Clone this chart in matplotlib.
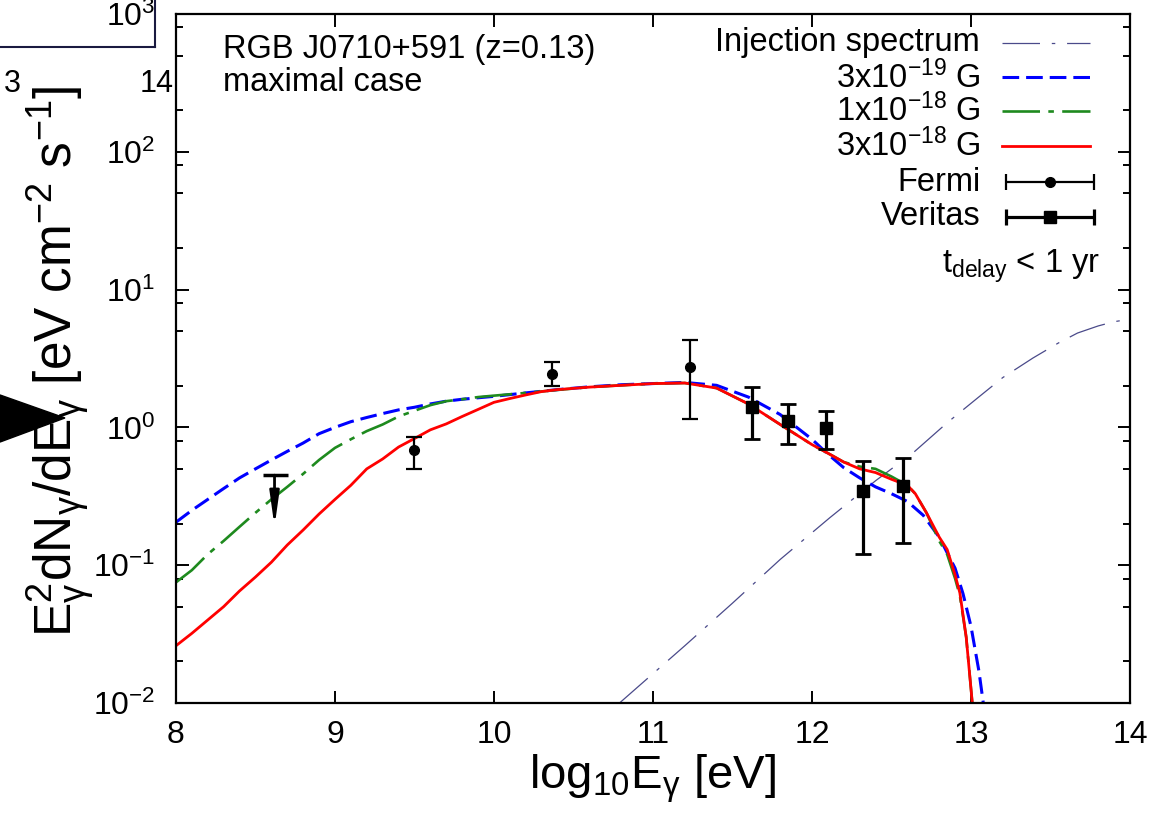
import matplotlib
matplotlib.use("Agg")
from matplotlib import pyplot as plt
from matplotlib.lines import Line2D
from matplotlib.patches import Polygon

plt.rcParams["font.family"] = ["Liberation Sans", "DejaVu Sans"]
plt.rcParams["mathtext.fontset"] = "custom"
plt.rcParams["mathtext.rm"] = "Liberation Sans"
plt.rcParams["mathtext.it"] = "Liberation Sans:italic"
plt.rcParams["mathtext.bf"] = "Liberation Sans:bold"
plt.rcParams["lines.scale_dashes"] = False

# ---- data ----
inj_x = [10.79, 11.2, 11.5, 11.8, 12.11, 12.4, 12.64, 12.85, 13.04, 13.2, 13.39, 13.55, 13.67, 13.8, 13.9, 13.96, 14.0]
inj_y = [0.01, 0.026, 0.053, 0.11, 0.22, 0.41, 0.66, 1.08, 1.63, 2.3, 3.19, 4.1, 4.84, 5.45, 5.85, 6.0, 6.05]

b19_x = [8.0, 8.1, 8.2, 8.3, 8.4, 8.5, 8.6, 8.7, 8.8, 8.9, 9.0, 9.1, 9.2, 9.3, 9.4, 9.5, 9.6, 9.7,
         9.8, 9.9, 10.0, 10.2, 10.4, 10.6, 10.8, 11.0, 11.2, 11.4, 11.6, 11.8, 12.0, 12.1, 12.2,
         12.3, 12.4, 12.5, 12.6, 12.7, 12.8, 12.9, 12.95, 13.0, 13.05, 13.08]
b19_y = [0.205, 0.25, 0.30, 0.36, 0.43, 0.50, 0.58, 0.67, 0.77, 0.90, 1.0, 1.10, 1.18, 1.26, 1.34,
         1.40, 1.48, 1.55, 1.60, 1.64, 1.68, 1.78, 1.88, 1.97, 2.04, 2.08, 2.12, 2.02, 1.66, 1.24,
         0.82, 0.64, 0.51, 0.43, 0.37, 0.33, 0.29, 0.23, 0.16, 0.095, 0.062, 0.036, 0.017, 0.0095]

b18_x = [8.0, 8.1, 8.2, 8.3, 8.4, 8.5, 8.6, 8.7, 8.8, 8.9, 9.0, 9.1, 9.2, 9.3, 9.4, 9.5, 9.6, 9.7,
         9.8, 9.9, 10.0, 10.2, 10.4, 10.6, 10.8, 11.0, 11.2, 11.4, 11.6, 11.8, 12.0, 12.1, 12.2,
         12.3, 12.4, 12.5, 12.6, 12.65, 12.72, 12.8, 12.85, 12.9, 12.93, 12.97, 13.01]
b18_y = [0.075, 0.092, 0.12, 0.15, 0.19, 0.24, 0.30, 0.37, 0.46, 0.58, 0.71, 0.82, 0.94, 1.05,
         1.20, 1.32, 1.45, 1.55, 1.60, 1.66, 1.70, 1.78, 1.87, 1.96, 2.02, 2.08, 2.10, 1.93, 1.48,
         1.05, 0.75, 0.65, 0.56, 0.52, 0.50, 0.44, 0.38, 0.33, 0.24, 0.15, 0.12, 0.08, 0.06, 0.03, 0.0095]

b3_x = [8.0, 8.1, 8.2, 8.3, 8.4, 8.5, 8.6, 8.7, 8.8, 8.9, 9.0, 9.1, 9.2, 9.3, 9.4, 9.5, 9.6, 9.7,
        9.8, 9.9, 10.0, 10.1, 10.2, 10.3, 10.4, 10.6, 10.8, 11.0, 11.2, 11.4, 11.6, 11.8, 12.0,
        12.1, 12.2, 12.3, 12.4, 12.5, 12.6, 12.65, 12.72, 12.8, 12.85, 12.9, 12.93, 12.97, 13.01]
b3_y = [0.026, 0.032, 0.040, 0.050, 0.065, 0.082, 0.105, 0.14, 0.18, 0.235, 0.30, 0.38, 0.50, 0.59,
        0.72, 0.83, 0.96, 1.06, 1.20, 1.35, 1.52, 1.62, 1.72, 1.82, 1.88, 1.96, 2.02, 2.08, 2.10,
        1.93, 1.48, 1.05, 0.75, 0.65, 0.56, 0.50, 0.47, 0.42, 0.38, 0.33, 0.24, 0.16, 0.13, 0.085,
        0.063, 0.030, 0.0095]

fermi_x = [9.50, 10.365, 11.23]
fermi_y = [0.685, 2.44, 2.74]
fermi_lo = [0.50, 2.0, 1.15]
fermi_hi = [0.85, 2.98, 4.3]
fermi_ul_x = 8.62
fermi_ul_y = 0.45
fermi_ul_tip = 0.19

ver_x = [11.62, 11.85, 12.09, 12.32, 12.57]
ver_y = [1.40, 1.11, 0.99, 0.345, 0.376]
ver_lo = [0.82, 0.76, 0.70, 0.12, 0.145]
ver_hi = [1.96, 1.48, 1.31, 0.57, 0.60]

xticks = [8, 9, 10, 11, 12, 13, 14]
yticks = [1e-2, 1e-1, 1e0, 1e1, 1e2, 1e3]
ytick_labels = ["10$^{-2}$", "10$^{-1}$", "10$^{0}$", "10$^{1}$", "10$^{2}$", "10$^{3}$"]
yminor = [m * 10.0 ** k for k in range(-2, 3) for m in (2, 5, 8)]

labels = ["Injection spectrum", "3x10$^{-19}$ G", "1x10$^{-18}$ G", "3x10$^{-18}$ G", "Fermi", "Veritas"]

# ---- figure ----
fig = plt.figure(figsize=(11.56, 8.27), dpi=100)
ax = fig.add_axes([0.1522, 0.150, 0.8253, 0.833])

c_inj = "#4a4a8a"
c_blue = "#0000ff"
c_green = "#1e8a1e"
c_red = "#ff0000"
fs = 23.5

ax.plot(inj_x, inj_y, color=c_inj, lw=0.9, dashes=(27, 8.5, 2.5, 8.5))
ax.plot(b19_x, b19_y, color=c_blue, lw=2.2, dashes=(12, 5))
ax.plot(b18_x, b18_y, color=c_green, lw=1.9, dashes=(27, 6, 4, 6))
ax.plot(b3_x, b3_y, color=c_red, lw=2.0)

f_err = [[y - lo for y, lo in zip(fermi_y, fermi_lo)], [hi - y for y, hi in zip(fermi_y, fermi_hi)]]
ax.errorbar(fermi_x, fermi_y, yerr=f_err, fmt="o", color="k", ms=7, elinewidth=1.6,
            capsize=6, capthick=1.6)
v_err = [[y - lo for y, lo in zip(ver_y, ver_lo)], [hi - y for y, hi in zip(ver_y, ver_hi)]]
ax.errorbar(ver_x, ver_y, yerr=v_err, fmt="s", color="k", ms=8.5, elinewidth=2.3,
            capsize=6, capthick=2.0)

# Fermi upper limit
ax.plot([fermi_ul_x], [fermi_ul_y], marker="_", ms=18, mew=2.5, color="k")
ax.annotate("", xy=(fermi_ul_x, fermi_ul_tip), xytext=(fermi_ul_x, fermi_ul_y),
            arrowprops=dict(arrowstyle="-|>,head_length=1.0,head_width=0.14", lw=2.0,
                            color="k", mutation_scale=20, shrinkA=0, shrinkB=0))

ax.set_xlim(8, 14)
ax.set_ylim(1e-2, 1e3)
ax.set_yscale("log")
ax.set_xticks(xticks)
ax.set_yticks(yticks, ytick_labels)
ax.set_yticks(yminor, minor=True)
ax.tick_params(which="both", direction="in", top=True, right=True, width=1.4,
               labelsize=23)
ax.tick_params(which="major", length=9)
ax.tick_params(which="minor", length=5)
ax.tick_params(axis="x", pad=12)
ax.tick_params(axis="y", pad=15)
for s in ax.spines.values():
    s.set_linewidth(1.6)

ax.set_xlabel(r"log$_{10}$E$_{\mathrm{\gamma}}$ [eV]", fontsize=34, labelpad=2)
fig.text(0.052, 0.563,
         r"E$_{\mathrm{\gamma}}^{2}$dN$_{\mathrm{\gamma}}$/dE$_{\mathrm{\gamma}}$ [eV cm$^{-2}$ s$^{-1}$]",
         rotation=90, ha="center", va="center", fontsize=37)

ax.text(0.049, 0.948, "RGB J0710+591 (z=0.13)", transform=ax.transAxes, fontsize=fs,
        ha="left", va="center")
ax.text(0.049, 0.900, "maximal case", transform=ax.transAxes, fontsize=fs,
        ha="left", va="center")
ax.text(0.969, 0.634, r"t$_{\mathrm{delay}}$ < 1 yr", transform=ax.transAxes, fontsize=fs,
        ha="right", va="center")

# ---- gnuplot-style key ----
rows = [0.958, 0.908, 0.859, 0.808, 0.756, 0.706]
tx, s0, s1 = 0.843, 0.866, 0.958
styles = [dict(color=c_inj, lw=0.9, dashes=(27, 8.5, 2.5, 8.5)),
          dict(color=c_blue, lw=2.2, dashes=(12, 5)),
          dict(color=c_green, lw=1.9, dashes=(27, 6, 4, 6)),
          dict(color=c_red, lw=2.0)]
for i, lab in enumerate(labels):
    ax.text(tx, rows[i], lab, transform=ax.transAxes, fontsize=fs, ha="right", va="center")
    if i < 4:
        ax.plot([s0, s1], [rows[i], rows[i]], transform=ax.transAxes, **styles[i])
    else:
        lw = 1.6 if i == 4 else 2.3
        mk = "o" if i == 4 else "s"
        ms = 7 if i == 4 else 8.5
        ax.errorbar([(s0 + s1) / 2 + 0.004], [rows[i]], xerr=[(s1 - s0) / 2], fmt=mk, color="k",
                    ms=ms, elinewidth=lw, capsize=6, capthick=lw, transform=ax.transAxes)

# ---- stray pieces cropped in from neighbouring panels ----
fig.add_artist(Line2D([0, 0.134], [0.9432, 0.9432], transform=fig.transFigure, color="#1a1a40", lw=1.5))
fig.add_artist(Line2D([0.134, 0.134], [0.9432, 1.0], transform=fig.transFigure, color="#1a1a40", lw=1.5))
fig.text(0.0105, 0.898, "3", fontsize=22, ha="center", va="center")
fig.text(0.1505, 0.898, "14", fontsize=22, ha="right", va="center")
fig.add_artist(Polygon([[0.0, 0.5224], [0.0, 0.4655], [0.0562, 0.4946]], closed=True,
                       transform=fig.transFigure, color="k"))

fig.savefig("out.png", dpi=100)
